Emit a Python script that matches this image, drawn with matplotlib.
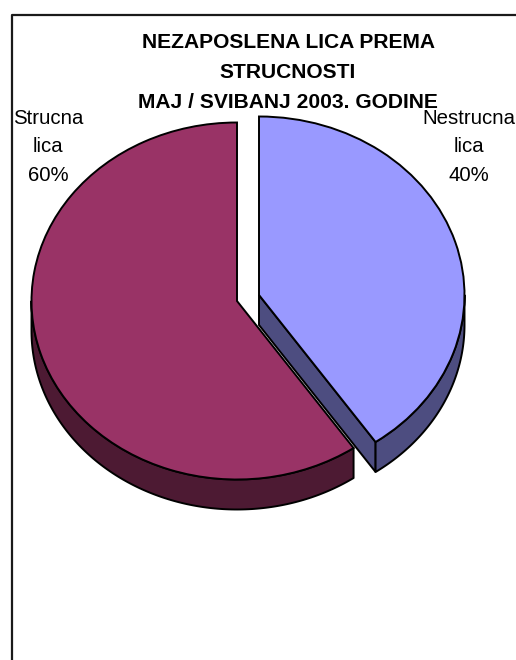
import numpy as np
import matplotlib
matplotlib.use("Agg")
import matplotlib.pyplot as plt
from matplotlib.lines import Line2D

categories = ["Nestrucna\nlica", "Strucna\nlica"]
values = [40.4, 59.6]
title_lines = ["NEZAPOSLENA LICA PREMA", "STRUCNOSTI", "MAJ / SVIBANJ 2003. GODINE"]

W, H = 516, 660
A, B = 205.5, 178.5      # ellipse semi-axes in pixels
DEPTH = 30 / B           # wall height in y data units
top_col = ["#9999FF", "#993366"]
side_col = ["#4D4D80", "#4D1A33"]
centers_px = [(259, 295), (237, 301)]
edge = "#000000"
LW = 1.4

plt.rcParams["font.family"] = ["Liberation Sans", "DejaVu Sans"]
fig = plt.figure(figsize=(W / 100, H / 100), dpi=100, facecolor="white")
ax = fig.add_axes([0, 0, 1, 1])

def to_data(cx, cy):
    return cx / A, (H - cy) / B

centers = [to_data(*c) for c in centers_px]
wedges, _ = ax.pie(values, colors=top_col, startangle=90, counterclock=False,
                   center=centers[0], radius=1,
                   wedgeprops=dict(edgecolor=edge, linewidth=LW))
wedges[1].set_center(centers[1])
ax.set_aspect("auto")
ax.set_xlim(0, W / A)
ax.set_ylim(0, H / B)
ax.axis("off")

# slice boundaries, as clockwise-from-top fractions of the circle
fractions = np.cumsum([0] + values) / sum(values) * 2 * np.pi
split = fractions[1]

def arc(c, t0, t1):
    t = np.linspace(t0, t1, 160)
    return c[0] + np.sin(t), c[1] + np.cos(t)

def wall(c, t0, t1, color, z):
    x, y = arc(c, t0, t1)
    px = np.r_[x, x[::-1]]
    py = np.r_[y, (y - DEPTH)[::-1]]
    ax.fill(px, py, facecolor=color, edgecolor=edge, linewidth=LW, zorder=z, joinstyle="round")

# Blue slice: cut face and outer wall
cb = centers[0]
ex, ey = arc(cb, split, split)
ax.fill([cb[0], ex[0], ex[0], cb[0]],
        [cb[1], ey[0], ey[0] - DEPTH, cb[1] - DEPTH],
        facecolor=side_col[0], edgecolor=edge, linewidth=LW, zorder=1)
wall(cb, np.pi / 2, split, side_col[0], 1)
wedges[0].set_zorder(2)

# Red slice: outer wall, visible from the split point round to the left
wall(centers[1], split, 1.5 * np.pi, side_col[1], 3)
wedges[1].set_zorder(4)

# Title
for text, py in zip(title_lines, [42, 72, 102]):
    ax.text(288 / A, (H - py) / B, text, ha="center", va="center",
            fontsize=15.1, fontweight="bold", color="black", zorder=6)

# Labels
label_pos = [(469, 147), (48, 147)]
for cat, v, (px, py) in zip(categories, values, label_pos):
    ax.text(px / A, (H - py) / B, f"{cat}\n{v:.0f}%", ha="center", va="center",
            fontsize=14.7, color="black", linespacing=1.64, zorder=7)

# Outer frame, running off the right and bottom of the image
fig.add_artist(Line2D([11.5 / W, 11.5 / W, 1], [0, 1 - 14.5 / H, 1 - 14.5 / H],
                      color="#1a1a1a", linewidth=1.6, transform=fig.transFigure))

fig.savefig("out.png", dpi=100)
